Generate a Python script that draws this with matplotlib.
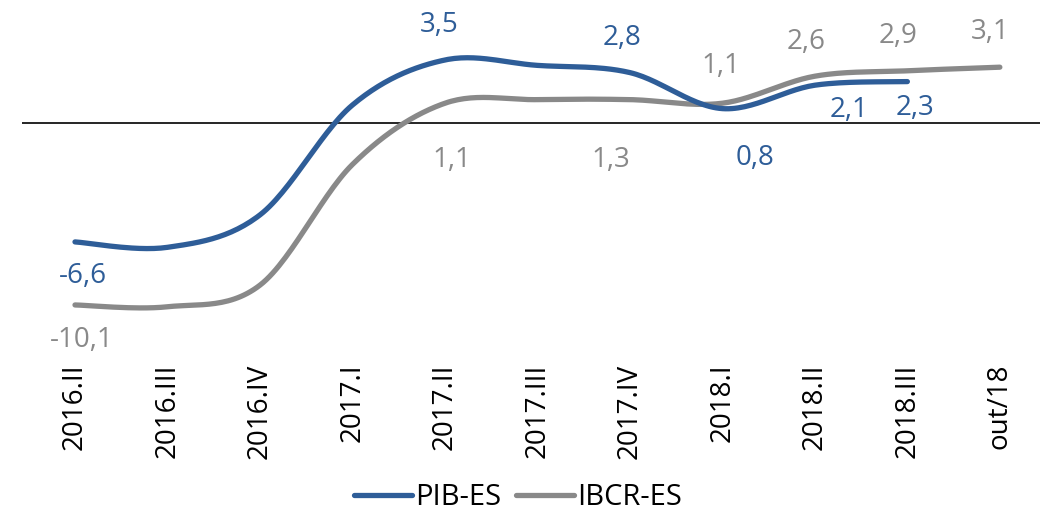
import matplotlib.pyplot as plt
import numpy as np

categories = ['2016.II', '2016.III', '2016.IV', '2017.I', '2017.II', '2017.III',
              '2017.IV', '2018.I', '2018.II', '2018.III', 'out/18']
pib = [-6.6, -6.9, -5.1, 1.0, 3.5, 3.2, 2.8, 0.8, 2.1, 2.3]
ibcr = [-10.1, -10.2, -9.0, -2.3, 1.1, 1.3, 1.3, 1.1, 2.6, 2.9, 3.1]

# which points get a label, and where (pixel offset from the point)
pib_labels = {0: (8, -34), 4: (-6, 35), 6: (-8, 35), 7: (33, -49), 8: (34, -25), 9: (8, -26)}
ibcr_labels = {0: (7, -35), 4: (7, -57), 6: (-19, -60), 7: (-2, 37), 8: (-9, 34), 9: (-9, 35), 10: (-10, 35)}

blue = '#2E5D98'
gray = '#898989'

plt.rcParams['font.family'] = ['Open Sans', 'DejaVu Sans']


def smooth(y, n=30):
    # Catmull-Rom style smoothing like Excel's smoothed lines
    x = np.arange(len(y), dtype=float)
    y = np.asarray(y, dtype=float)
    xs, ys = [], []
    for i in range(len(y) - 1):
        p0 = max(i - 1, 0)
        p3 = min(i + 2, len(y) - 1)
        c1x = x[i] + (x[i + 1] - x[p0]) / 6
        c1y = y[i] + (y[i + 1] - y[p0]) / 6
        c2x = x[i + 1] - (x[p3] - x[i]) / 6
        c2y = y[i + 1] - (y[p3] - y[i]) / 6
        t = np.linspace(0, 1, n)
        bx = (1-t)**3*x[i] + 3*(1-t)**2*t*c1x + 3*(1-t)*t**2*c2x + t**3*x[i+1]
        by = (1-t)**3*y[i] + 3*(1-t)**2*t*c1y + 3*(1-t)*t**2*c2y + t**3*y[i+1]
        xs.append(bx)
        ys.append(by)
    return np.concatenate(xs), np.concatenate(ys)


fig = plt.figure(figsize=(10.48, 5.17), dpi=100)
ax = fig.add_axes([0.021, 0.307, 0.971, 0.693])

ax.axhline(0, color='black', lw=1.2, zorder=1)

sx, sy = smooth(pib)
ax.plot(sx, sy, color=blue, lw=3.8, solid_capstyle='round', label='PIB-ES', zorder=3)
sx, sy = smooth(ibcr)
ax.plot(sx, sy, color=gray, lw=3.8, solid_capstyle='round', label='IBCR-ES', zorder=2)

fs = 20
for i, off in pib_labels.items():
    ax.annotate(f'{pib[i]:.1f}'.replace('.', ','), (i, pib[i]), xytext=off,
                textcoords='offset pixels', ha='center', va='center',
                color=blue, fontsize=fs)
for i, off in ibcr_labels.items():
    ax.annotate(f'{ibcr[i]:.1f}'.replace('.', ','), (i, ibcr[i]), xytext=off,
                textcoords='offset pixels', ha='center', va='center',
                color=gray, fontsize=fs)

ax.set_xlim(-0.573, 10.43)
ax.set_ylim(-13.06, 6.83)
ax.set_xticks(range(len(categories)))
ax.set_xticklabels(categories, rotation=90, fontsize=fs)
ax.tick_params(axis='x', length=0, pad=4)
ax.set_yticks([])
for s in ax.spines.values():
    s.set_visible(False)

leg = fig.legend(loc='center', bbox_to_anchor=(0.494, 0.037), ncol=2, frameon=False,
                 fontsize=21, handlelength=2.0, handletextpad=0.1, columnspacing=0.5)

fig.savefig('out.png', dpi=100)
